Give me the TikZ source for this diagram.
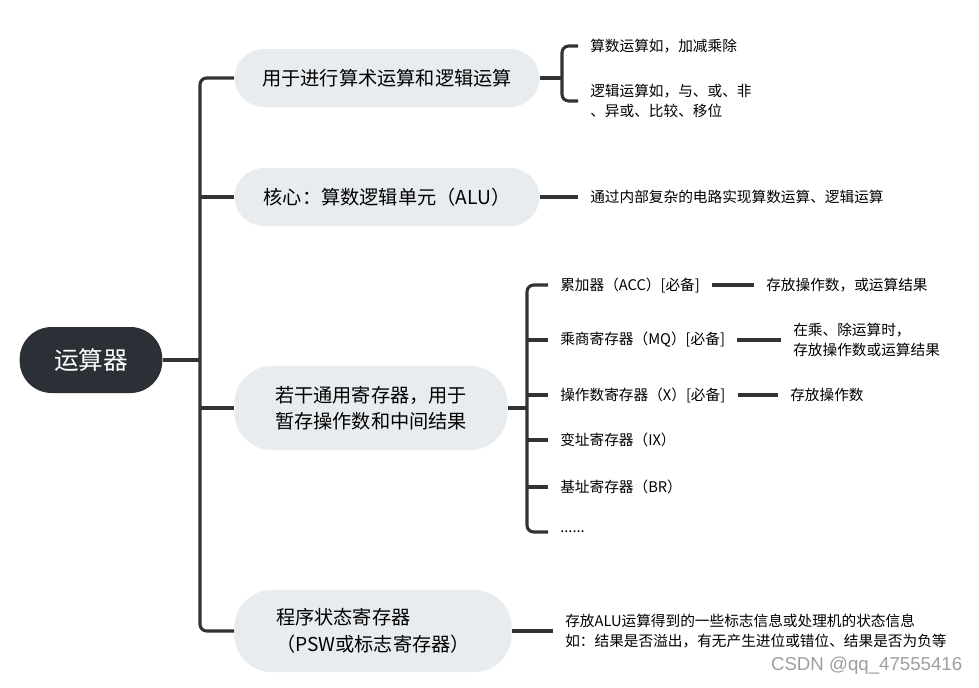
\documentclass[tikz,border=0pt]{standalone}
\usepackage{fontspec}
\setmainfont{Noto Sans CJK SC}
\newfontfamily\markfont{Liberation Sans}
\usetikzlibrary{positioning, calc}

\definecolor{rootgray}{HTML}{2B2F36}
\definecolor{pillgray}{HTML}{E9ECEF}
\definecolor{linegray}{HTML}{333333}

\begin{document}
\begin{tikzpicture}[x=0.75pt, y=-0.75pt,
    branch/.style={draw=linegray, line width=2.3pt, rounded corners=5pt},
    rootnode/.style={fill=rootgray, text=white, rounded corners=24pt, minimum width=107pt, minimum height=49.5pt, font=\fontsize{18.5}{22}\selectfont},
    topic/.style={fill=pillgray, rounded corners=22pt, minimum height=43.5pt, align=center, font=\fontsize{14.4}{20}\selectfont},
    leaf/.style={anchor=west, inner xsep=9pt, inner ysep=0pt, align=left, font=\fontsize{11}{14.5}\selectfont},
  ]
    \path[fill=white, use as bounding box] (0,0) rectangle (979,687);

    \pgfmathsetmacro{\trunkx}{200}
    \coordinate (trunk) at (\trunkx, 360);
    \coordinate (brka) at (562, 78);
    \coordinate (brkb) at (527, 408);

  % Root and main topics
    \node[rootnode] (root) at (91, 360) {运算器};
    \node[topic, minimum width=228.75pt] (use) at (387, 78) {用于进行算术运算和逻辑运算};
    \node[topic, minimum width=228.75pt] (core) at (387, 197) {核心：算数逻辑单元（ALU）};
    \node[topic, minimum width=204.75pt, minimum height=63pt, rounded corners=28pt] (regs) at (371, 408) {若干通用寄存器，用于\\暂存操作数和中间结果};
    \node[topic, minimum width=208pt, minimum height=61.5pt, rounded corners=28pt, align=left] (psw) at (373, 631) {程序状态寄存器\\（PSW或标志寄存器）};

    \draw[branch] (root.east) -- (trunk);
    \draw[branch] (use.west) -- (use.west -| trunk) |- (psw.west);
    \draw[branch] (trunk |- core.west) -- (core.west);
    \draw[branch] (trunk |- regs.west) -- (regs.west);

  % Use
    \node[leaf] (arith) at (578, 46) {算数运算如，加减乘除};
    \node[leaf] (logic) at (578, 101) {逻辑运算如，与、或、非\\、异或、比较、移位};
    \draw[branch] (use.east) -- (brka);
    \draw[branch] (arith.west) -| (brka) |- (logic.west);

  % Core
    \node[leaf] (circuit) at (578, 197) {通过内部复杂的电路实现算数运算、逻辑运算};
    \draw[branch] (core.east) -- (circuit.west);

  % Registers
    \node[leaf] (acc) at (548, 285) {累加器（ACC）[必备]};
    \node[leaf] (mq) at (548, 340) {乘商寄存器（MQ）[必备]};
    \node[leaf] (xreg) at (548, 395) {操作数寄存器（X）[必备]};
    \node[leaf] (ix) at (548, 440) {变址寄存器（IX）};
    \node[leaf] (br) at (548, 487) {基址寄存器（BR）};
    \node[leaf] (more) at (548, 532) {......};
    \draw[branch] (regs.east) -- (brkb);
    \draw[branch] (acc.west) -| (brkb) |- (more.west);
    \foreach \r in {mq, xreg, ix, br}
        \draw[branch] (brkb |- \r.west) -- (\r.west);

    \node[leaf] (accnote) at (754, 285) {存放操作数，或运算结果};
    \node[leaf] (mqnote) at (781, 340) {在乘、除运算时，\\存放操作数或运算结果};
    \node[leaf] (xnote) at (778, 395) {存放操作数};
    \draw[branch] (acc.east) -- (accnote.west);
    \draw[branch] (mq.east) -- (mqnote.west);
    \draw[branch] (xreg.east) -- (xnote.west);

  % PSW
    \node[leaf, font=\fontsize{11}{15}\selectfont] (pswnote) at (553, 631) {存放ALU运算得到的一些标志信息或处理机的状态信息\\如：结果是否溢出，有无产生进位或错位、结果是否为负等};
    \draw[branch] (psw.east) -- (pswnote.west);

    \node[anchor=east, text=gray!75, font=\markfont\fontsize{14}{16}\selectfont] (mark) at (967, 666) {CSDN @qq\_47555416};

\end{tikzpicture}
\end{document}
